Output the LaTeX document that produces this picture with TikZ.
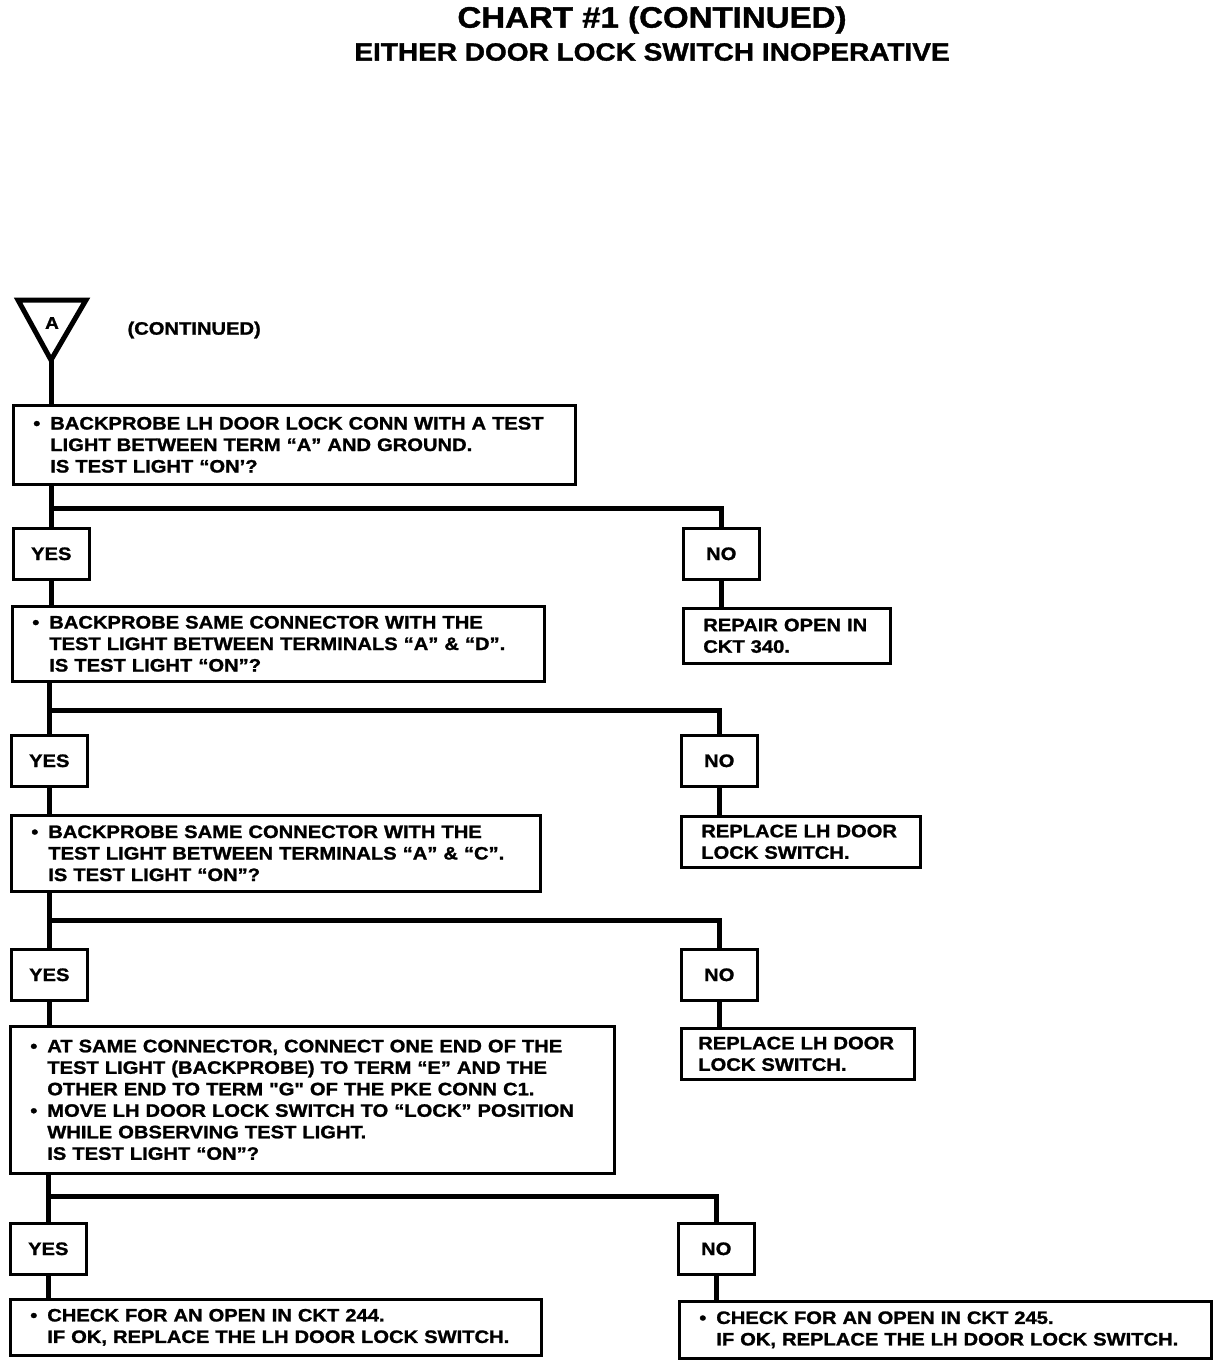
\documentclass[tikz,border=0pt]{standalone}
\usepackage{fontspec}
\newfontfamily\hv{Liberation Sans}[FakeStretch=1.12, BoldFeatures={FakeBold=1.3}]
\newcommand{\bodyfont}{\hv\bfseries\fontsize{18}{21.5}\selectfont}
\newcommand{\bu}{\makebox[17pt][l]{\textbullet}}
\newcommand{\ind}{\hspace*{17pt}}
\tikzset{
  box/.style={draw, line width=2.6pt, inner xsep=20pt, inner ysep=0pt, align=left, anchor=north west, font=\bodyfont},
  yn/.style={draw, line width=2.6pt, inner sep=0pt, align=center, anchor=north west, font=\bodyfont, minimum width=76pt, minimum height=51pt},
  conn/.style={line width=5pt},
}
\begin{document}
\begin{tikzpicture}[x=1pt,y=-1pt]
\useasboundingbox (0,0) rectangle (1232,1366);
% titles
\node[font=\hv\bfseries\fontsize{29.5}{32}\selectfont] (t1) at (652,20) {CHART \#1 (CONTINUED)};
\node[font=\hv\bfseries\fontsize{25}{28}\selectfont] (t2) at (652,52) {EITHER DOOR LOCK SWITCH INOPERATIVE};
% triangle
\draw[line width=5pt, line join=miter] (18,300) -- (86,300) -- (51,360) -- cycle;
\node[font=\hv\bfseries\fontsize{17}{19}\selectfont] (A) at (52,323) {A};
\coordinate (apex) at (51,360);
\node[font=\hv\bfseries\fontsize{18}{21}\selectfont, anchor=west] (cont) at (124,330) {(CONTINUED)};
% boxes
\node[box, text width=522pt, minimum height=79pt] (b1) at (12,404) {\bu BACKPROBE LH DOOR LOCK CONN WITH A TEST\\ \ind LIGHT BETWEEN TERM “A” AND GROUND.\\ \ind IS TEST LIGHT “ON’?};
\node[yn] (y1) at (12,527) {YES};
\node[yn] (n1) at (682,527) {NO};
\node[box, text width=492pt, minimum height=75pt] (b2) at (11,605) {\bu BACKPROBE SAME CONNECTOR WITH THE\\ \ind TEST LIGHT BETWEEN TERMINALS “A” \& “D”.\\ \ind IS TEST LIGHT “ON”?};
\node[box, text width=167pt, minimum height=55pt] (r1) at (682,607) {REPAIR OPEN IN\\ CKT 340.};
\node[yn] (y2) at (10,734) {YES};
\node[yn] (n2) at (680,734) {NO};
\node[box, text width=489pt, minimum height=76pt] (b3) at (10,814) {\bu BACKPROBE SAME CONNECTOR WITH THE\\ \ind TEST LIGHT BETWEEN TERMINALS “A” \& “C”.\\ \ind IS TEST LIGHT “ON”?};
\node[box, text width=199pt, minimum height=51pt] (r2) at (680,815) {REPLACE LH DOOR\\ LOCK SWITCH.};
\node[yn] (y3) at (10,948) {YES};
\node[yn] (n3) at (680,948) {NO};
\node[box, text width=564pt, minimum height=147pt] (b4) at (9,1025) {\bu AT SAME CONNECTOR, CONNECT ONE END OF THE\\ \ind TEST LIGHT (BACKPROBE) TO TERM “E” AND THE\\ \ind OTHER END TO TERM "G" OF THE PKE CONN C1.\\ \bu MOVE LH DOOR LOCK SWITCH TO “LOCK” POSITION\\ \ind WHILE OBSERVING TEST LIGHT.\\ \ind IS TEST LIGHT “ON”?};
\node[box, inner xsep=17pt, text width=199pt, minimum height=51pt] (r3) at (680,1027) {REPLACE LH DOOR\\ LOCK SWITCH.};
\node[yn] (y4) at (9,1222) {YES};
\node[yn] (n4) at (677,1222) {NO};
\node[box, text width=491pt, minimum height=56pt] (b5) at (9,1298) {\bu CHECK FOR AN OPEN IN CKT 244.\\ \ind IF OK, REPLACE THE LH DOOR LOCK SWITCH.};
\node[box, text width=492pt, minimum height=57pt] (b6) at (678,1300) {\bu CHECK FOR AN OPEN IN CKT 245.\\ \ind IF OK, REPLACE THE LH DOOR LOCK SWITCH.};
% junctions
\coordinate (j1) at (y1.north |- 0,508);
\coordinate (j2) at (y2.north |- 0,710);
\coordinate (j3) at (y3.north |- 0,920);
\coordinate (j4) at (y4.north |- 0,1196);
% connectors
\draw[conn] (apex) -- (apex |- b1.north);
\draw[conn] (y1.north |- b1.south) -- (y1.north);
\draw[conn] (j1) -| (n1.north);
\draw[conn] (y1.south) -- (y1.south |- b2.north);
\draw[conn] (n1.south) -- (n1.south |- r1.north);
\draw[conn] (y2.north |- b2.south) -- (y2.north);
\draw[conn] (j2) -| (n2.north);
\draw[conn] (y2.south) -- (y2.south |- b3.north);
\draw[conn] (n2.south) -- (n2.south |- r2.north);
\draw[conn] (y3.north |- b3.south) -- (y3.north);
\draw[conn] (j3) -| (n3.north);
\draw[conn] (y3.south) -- (y3.south |- b4.north);
\draw[conn] (n3.south) -- (n3.south |- r3.north);
\draw[conn] (y4.north |- b4.south) -- (y4.north);
\draw[conn] (j4) -| (n4.north);
\draw[conn] (y4.south) -- (y4.south |- b5.north);
\draw[conn] (n4.south) -- (n4.south |- b6.north);
\end{tikzpicture}
\end{document}
